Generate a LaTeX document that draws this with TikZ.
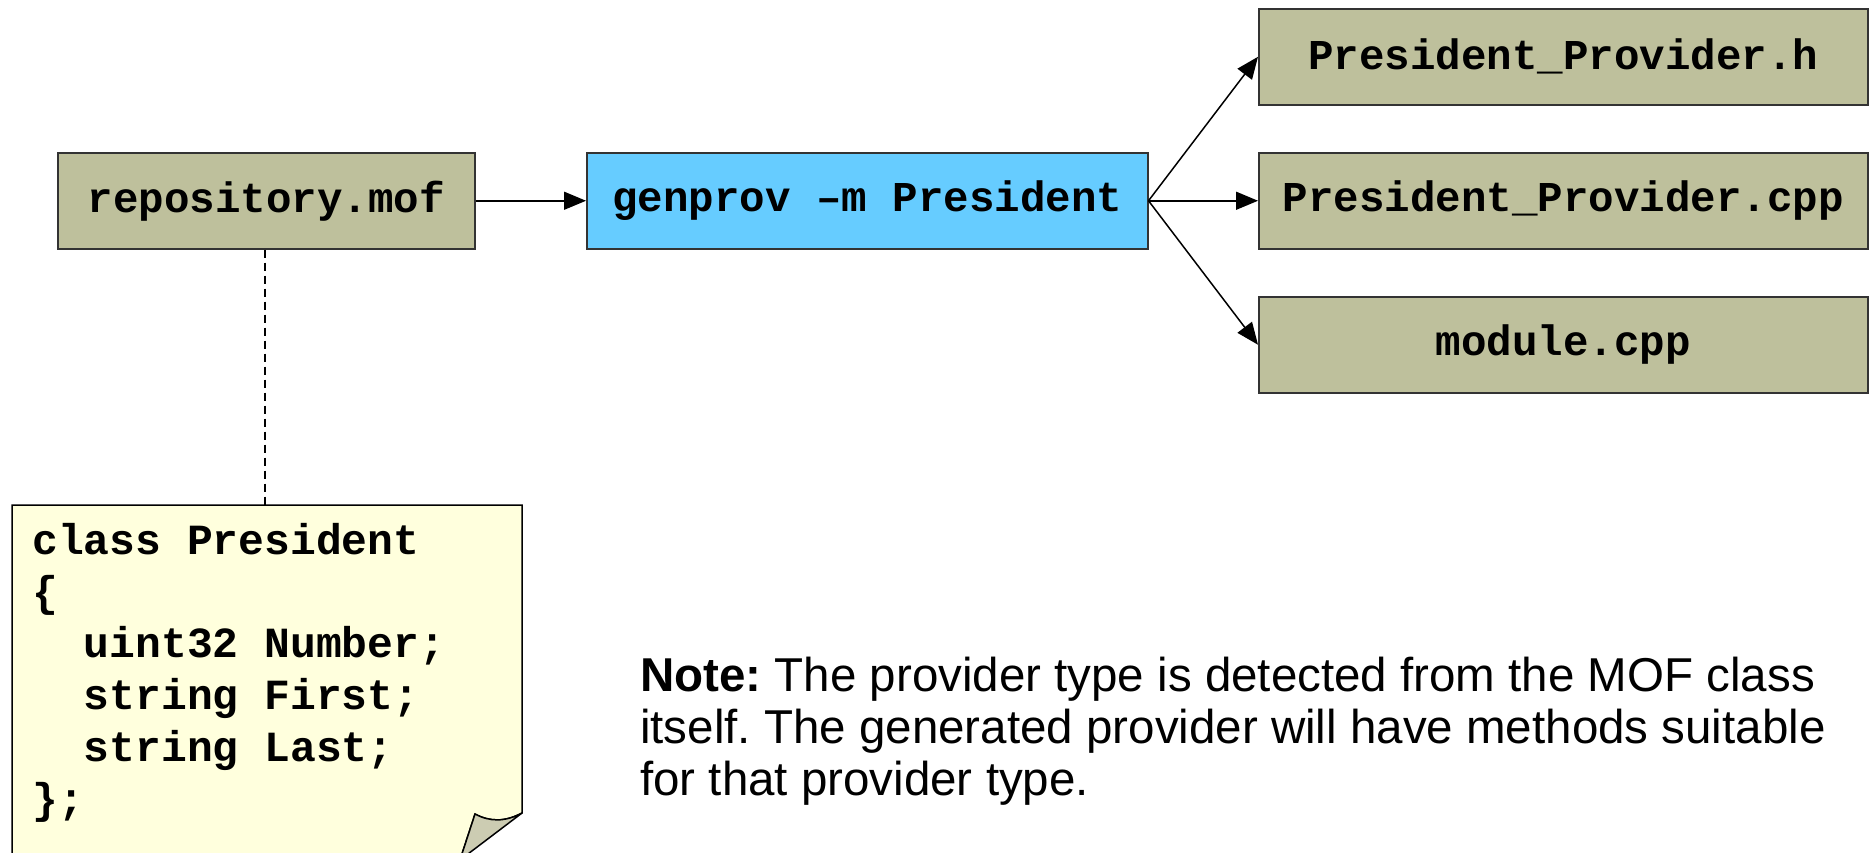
\documentclass[tikz,border=0pt]{standalone}
\usepackage{fontspec}
\setmainfont{Liberation Sans}
\setmonofont{Liberation Mono}
\usetikzlibrary{arrows.meta}
\definecolor{olivebox}{RGB}{190,192,156}
\definecolor{bluebox}{RGB}{102,204,255}
\definecolor{noteyellow}{RGB}{255,255,221}
\definecolor{flapcol}{RGB}{204,204,178}
\frenchspacing
\begin{document}
\begin{tikzpicture}[x=1pt,y=-1pt,
  filebox/.style={draw=black!80, line width=1.5pt, fill=olivebox, minimum height=96pt,
    inner sep=0pt, anchor=north west, font=\ttfamily\bfseries\fontsize{42.5}{49}\selectfont},
  arr/.style={line width=1.5pt, -{Triangle[length=22pt,width=18pt]}},
  codetext/.style={inner sep=0pt, anchor=north west, align=left,
    font=\ttfamily\bfseries\fontsize{43}{51.8}\selectfont},
  notetext/.style={inner sep=0pt, anchor=north west, align=left,
    font=\fontsize{47.5}{51.8}\selectfont}]
\useasboundingbox (0,0) rectangle (1873,852);
\fill[white] (0,0) rectangle (1873,852);

\node[filebox, minimum width=417pt] (repo) at (57,152) {repository.mof};
\node[filebox, fill=bluebox, minimum width=561pt] (gen) at (586,152) {genprov –m President};
\node[filebox, minimum width=609pt] (hfile) at (1258,8) {President\_Provider.h};
\node[filebox, minimum width=609pt] (cppfile) at (1258,152) {President\_Provider.cpp};
\node[filebox, minimum width=609pt] (modfile) at (1258,296) {module.cpp};

\draw[arr] (repo.east) -- (gen.west);
\draw[arr] (gen.east) -- (hfile.west);
\draw[arr] (gen.east) -- (cppfile.west);
\draw[arr] (gen.east) -- (modfile.west);

% note with folded corner
\coordinate (ntl) at (12,505);
\coordinate (ntr) at (522,505);
\coordinate (nfr) at (522,813);
\coordinate (nfb) at (460,860);
\coordinate (ntip) at (475,814);
\draw[line width=1.5pt, fill=noteyellow] (nfb) -- (12,870) -- (ntl) -- (ntr) -- (nfr)
  .. controls (505,822) and (490,822) .. (ntip) -- (nfb);
\draw[line width=1.5pt, fill=flapcol, line join=round] (nfr)
  .. controls (505,822) and (490,822) .. (ntip) -- (nfb) -- cycle;
\coordinate (nconn) at (265,505);
\draw[line width=1.3pt, dash pattern=on 8pt off 5pt] (repo.south -| nconn) -- (nconn);

\node[codetext] (code) at (32,523) {class President\\\{\\\ \ uint32 Number;\\\ \ string First;\\\ \ string Last;\\\};};

\node[notetext] (note) at (640,657) {\textbf{Note:} The provider type is detected from the MOF class\\itself. The generated provider will have methods suitable\\for that provider type.};
\end{tikzpicture}
\end{document}
